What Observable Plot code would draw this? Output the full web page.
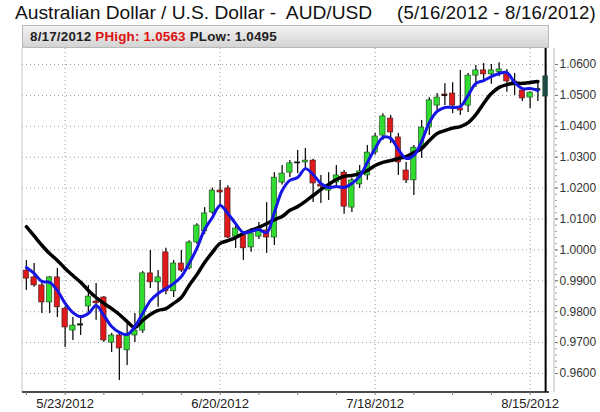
<!DOCTYPE html>
<html>
<head>
<meta charset="utf-8">
<script src="https://cdn.jsdelivr.net/npm/d3@7"></script>
<script src="https://cdn.jsdelivr.net/npm/@observablehq/plot@0.6"></script>
<style>
  body { margin: 0; background: #fff; font-family: "Liberation Sans", Arial, sans-serif; }
  #wrap { width: 600px; height: 412px; overflow: hidden; position: relative; }
  #title { position: relative; height: 25px; line-height: 26px; color: #111; white-space: pre; }
  #title .l { position: absolute; left: 15px; top: 0; font-size: 19.2px; }
  #title .r { position: absolute; right: 4px; top: 0; font-size: 18.6px; letter-spacing: 0.2px; }
  #hdr { margin-left: 22px; width: 527px; height: 23px; box-sizing: border-box;
         background: linear-gradient(#f2f2f2, #d4d4d4); border: 1px solid #b8b8b8;
         font-size: 13.4px; font-weight: bold; line-height: 22px; padding-left: 7px; color: #222; white-space: pre; letter-spacing: 0.2px; }
  #hdr .hi { color: #e01010; }
  #chart svg { display: block; }
</style>
</head>
<body>
<div id="wrap">
  <div id="title"><span class="l">Australian Dollar / U.S. Dollar -  AUD/USD</span><span class="r">(5/16/2012 - 8/16/2012)</span></div>
  <div id="hdr"></div>
  <div id="chart"></div>
</div>
<script>
// trading days (weekdays) 5/16/2012 .. 8/17/2012
const dates = [
  "5/16/2012","5/17/2012","5/18/2012","5/21/2012","5/22/2012","5/23/2012","5/24/2012","5/25/2012","5/28/2012","5/29/2012","5/30/2012","5/31/2012",
  "6/1/2012","6/4/2012","6/5/2012","6/6/2012","6/7/2012","6/8/2012","6/11/2012","6/12/2012","6/13/2012","6/14/2012","6/15/2012","6/18/2012","6/19/2012","6/20/2012","6/21/2012","6/22/2012","6/25/2012","6/26/2012","6/27/2012","6/28/2012","6/29/2012",
  "7/2/2012","7/3/2012","7/4/2012","7/5/2012","7/6/2012","7/9/2012","7/10/2012","7/11/2012","7/12/2012","7/13/2012","7/16/2012","7/17/2012","7/18/2012","7/19/2012","7/20/2012","7/23/2012","7/24/2012","7/25/2012","7/26/2012","7/27/2012","7/30/2012","7/31/2012",
  "8/1/2012","8/2/2012","8/3/2012","8/6/2012","8/7/2012","8/8/2012","8/9/2012","8/10/2012","8/13/2012","8/14/2012","8/15/2012","8/16/2012","8/17/2012"
];
const open = [0.9933,0.9911,0.9885,0.9830,0.9911,0.9810,0.9739,0.9755,0.9817,0.9833,0.9846,0.9700,
  0.9723,0.9675,0.9723,0.9739,0.9924,0.9895,0.9992,0.9866,0.9956,0.9940,1.0024,1.0060,1.0121,1.0192,1.0199,1.0043,1.0047,1.0008,1.0043,1.0063,1.0040,
  1.0218,1.0250,1.0280,1.0283,1.0289,1.0211,1.0192,1.0218,1.0250,1.0137,1.0212,1.0241,1.0315,1.0370,1.0425,1.0364,1.0257,1.0225,1.0335,1.0396,1.0467,1.0503,
  1.0506,1.0458,1.0467,1.0564,1.0581,1.0568,1.0576,1.0568,1.0545,1.0516,1.0493,1.0516];
const high = [0.9966,0.9956,0.9891,0.9914,0.9940,0.9817,0.9781,0.9788,0.9885,0.9891,0.9849,0.9730,
  0.9730,0.9772,0.9794,0.9930,0.9998,0.9933,1.0005,0.9966,0.9998,1.0030,1.0085,1.0137,1.0200,1.0225,1.0208,1.0079,1.0056,1.0069,1.0089,1.0153,1.0250,
  1.0273,1.0289,1.0322,1.0328,1.0293,1.0241,1.0250,1.0273,1.0257,1.0231,1.0273,1.0338,1.0377,1.0441,1.0435,1.0377,1.0283,1.0338,1.0419,1.0493,1.0506,1.0538,
  1.0541,1.0581,1.0571,1.0597,1.0603,1.0600,1.0606,1.0584,1.0571,1.0525,1.0512,1.0545];
const low = [0.9869,0.9879,0.9794,0.9794,0.9781,0.9684,0.9707,0.9723,0.9788,0.9772,0.9700,0.9668,
  0.9577,0.9626,0.9700,0.9730,0.9875,0.9814,0.9855,0.9846,0.9927,0.9935,1.0018,1.0050,1.0115,1.0137,1.0037,1.0005,0.9966,0.9992,1.0034,0.9989,1.0014,
  1.0210,1.0234,1.0247,1.0263,1.0153,1.0150,1.0160,1.0208,1.0115,1.0121,1.0199,1.0225,1.0306,1.0354,1.0344,1.0241,1.0215,1.0176,1.0296,1.0370,1.0451,1.0467,
  1.0441,1.0435,1.0445,1.0526,1.0548,1.0536,1.0560,1.0510,1.0500,1.0480,1.0458,1.0480];
const close = [0.9907,0.9885,0.9830,0.9911,0.9814,0.9749,0.9755,0.9759,0.9849,0.9827,0.9707,0.9723,
  0.9681,0.9723,0.9739,0.9924,0.9895,0.9911,0.9866,0.9956,0.9933,1.0024,1.0079,1.0118,1.0192,1.0186,1.0040,1.0069,1.0005,1.0053,1.0066,1.0040,1.0234,
  1.0247,1.0280,1.0283,1.0289,1.0215,1.0205,1.0208,1.0241,1.0140,1.0225,1.0254,1.0315,1.0367,1.0432,1.0380,1.0283,1.0225,1.0331,1.0396,1.0484,1.0493,1.0500,
  1.0467,1.0451,1.0564,1.0581,1.0568,1.0581,1.0584,1.0545,1.0540,1.0490,1.0509,1.0520];
// moving averages as drawn (blue = short, black = long)
const maShort = [0.9943,0.9924,0.9898,0.9895,0.9869,0.9827,0.9797,0.9784,0.9794,0.9820,0.9788,0.9752,
  0.9733,0.9726,0.9752,0.9794,0.9836,0.9859,0.9875,0.9891,0.9914,0.9956,1.0005,1.0066,1.0105,1.0144,1.0118,1.0085,1.0056,1.0060,1.0066,1.0056,1.0121,
  1.0192,1.0225,1.0234,1.0263,1.0244,1.0215,1.0202,1.0205,1.0202,1.0215,1.0238,1.0283,1.0328,1.0364,1.0361,1.0325,1.0296,1.0306,1.0351,1.0412,1.0448,1.0461,
  1.0461,1.0464,1.0500,1.0539,1.0548,1.0561,1.0571,1.0574,1.0542,1.0522,1.0522,1.0516];
const maLong = [1.0075,1.0045,1.0015,0.9988,0.9966,0.9940,0.9917,0.9895,0.9869,0.9846,0.9827,0.9810,
  0.9791,0.9768,0.9749,0.9772,0.9791,0.9804,0.9810,0.9827,0.9846,0.9885,0.9920,0.9959,0.9992,1.0021,1.0030,1.0040,1.0053,1.0063,1.0073,1.0085,1.0098,
  1.0108,1.0128,1.0140,1.0157,1.0176,1.0195,1.0212,1.0228,1.0238,1.0241,1.0247,1.0257,1.0273,1.0283,1.0289,1.0296,1.0302,1.0315,1.0328,1.0354,1.0377,1.0386,
  1.0394,1.0399,1.0412,1.0438,1.0474,1.0506,1.0526,1.0535,1.0539,1.0539,1.0542,1.0545];
const yTicks = [0.96,0.97,0.98,0.99,1.00,1.01,1.02,1.03,1.04,1.05,1.06];
const dateLabels = ["5/23/2012","6/20/2012","7/18/2012","8/15/2012"];
const weekTicks = ["5/16/2012","5/23/2012","5/30/2012","6/6/2012","6/13/2012","6/20/2012","6/27/2012","7/4/2012","7/11/2012","7/18/2012","7/25/2012","8/1/2012","8/8/2012","8/15/2012"];
const cursorDate = "8/17/2012";
const pHigh = 1.0563, pLow = 1.0495;

document.getElementById("hdr").innerHTML =
  `${cursorDate} <span class="hi">PHigh: ${pHigh.toFixed(4)}</span> PLow: ${pLow.toFixed(4)}`;

const bars = open.map((o, i) => ({date: dates[i], open: o, high: high[i], low: low[i], close: close[i], s: maShort[i], l: maLong[i]}));
const minorTicks = d3.range(0, 51).map(k => 0.96 + k * 0.002);

const frameDeco = (index, scales, values, dims) => {
  const {width, height, marginLeft, marginRight, marginBottom, marginTop} = dims;
  const g = d3.create("svg:g");
  const yb = height - marginBottom;
  g.append("line").attr("x1", marginLeft).attr("x2", marginLeft).attr("y1", marginTop).attr("y2", yb)
    .attr("stroke", "#c8c8c8");
  g.append("line").attr("x1", width - marginRight + 5).attr("x2", width - marginRight + 5).attr("y1", marginTop).attr("y2", yb)
    .attr("stroke", "#bbb");
  g.append("line").attr("x1", marginLeft).attr("x2", width - marginRight).attr("y1", yb).attr("y2", yb)
    .attr("stroke", "#111").attr("stroke-width", 1.5);
  return g.node();
};

const chart = Plot.plot({
  width: 600,
  height: 364,
  marginLeft: 22,
  marginRight: 51,
  marginTop: 0,
  marginBottom: 20,
  x: {type: "band", domain: dates, padding: 0, axis: null, label: null},
  y: {domain: [0.96, 1.06], range: [325, 16], axis: null, label: null},
  style: {fontFamily: "'Liberation Sans', Arial, sans-serif", background: "#fff", color: "#222", overflow: "visible"},
  marks: [
    Plot.ruleY(yTicks, {stroke: "#9a9a9a", strokeDasharray: "1,3"}),
    Plot.ruleX(dateLabels, {stroke: "#9a9a9a", strokeDasharray: "1,3"}),
    frameDeco,
    Plot.ruleX(bars, {x: "date", y1: "low", y2: "high", stroke: "#111", strokeWidth: 1.3}),
    Plot.barY(bars, {filter: d => d.close >= d.open, x: "date", y1: "open", y2: "close", fill: "#2fdc2f", stroke: "#1a3a1a", strokeWidth: 0.6, insetLeft: 1.2, insetRight: 1.2}),
    Plot.barY(bars, {filter: d => d.close < d.open, x: "date", y1: "open", y2: "close", fill: "#e01a1a", stroke: "#3a1a1a", strokeWidth: 0.6, insetLeft: 1.2, insetRight: 1.2}),
    Plot.tickY(bars, {filter: d => Math.abs(d.close - d.open) < 0.0004, x: "date", y: "close", stroke: "#111", strokeWidth: 1.3, insetLeft: 1.2, insetRight: 1.2}),
    Plot.ruleX([cursorDate], {stroke: "#000", strokeWidth: 2}),
    Plot.barY([{date: cursorDate, lo: pLow, hi: pHigh}], {x: "date", y1: "lo", y2: "hi", fill: "#1f4a44", insetLeft: 1.2, insetRight: 1.2}),
    Plot.lineY(bars, {x: "date", y: "l", stroke: "#000", strokeWidth: 3.5, curve: "catmull-rom"}),
    Plot.lineY(bars, {x: "date", y: "s", stroke: "#1515e6", strokeWidth: 3, curve: "catmull-rom"}),
    Plot.axisY(minorTicks, {anchor: "right", tickSize: 2, tickFormat: () => "", dx: 5, stroke: "#999", label: null}),
    Plot.axisY(yTicks, {anchor: "right", tickSize: 3, tickPadding: 2, dx: 5, tickFormat: d3.format(".4f"), fontSize: 12, fill: "#333", stroke: "#777", label: null}),
    Plot.axisX(weekTicks, {anchor: "bottom", tickSize: 3, tickPadding: 3, fontSize: 13, fill: "#222", stroke: "#777", label: null,
      tickFormat: d => dateLabels.includes(d) ? d : ""})
  ]
});
document.getElementById("chart").appendChild(chart);
</script>
</body>
</html>
